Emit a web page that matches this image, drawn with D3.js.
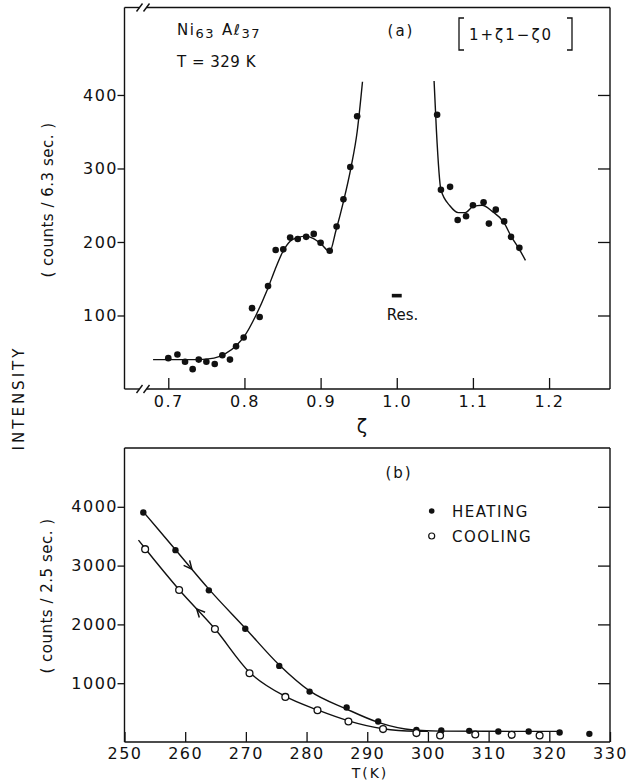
<!DOCTYPE html>
<html>
<head>
<meta charset="utf-8">
<script src="https://cdn.jsdelivr.net/npm/d3@7"></script>
<style>
  body { margin: 0; background: #fff; }
  svg { display: block; font-family: 'DejaVu Sans', sans-serif; }
  text { fill: #111; }
</style>
</head>
<body>
<script>
// (a) zeta scan, Ni63 Al37 at 329 K -- points either side of the Bragg peak
const zetaLow = [0.700, 0.712, 0.722, 0.732, 0.740, 0.750, 0.761, 0.771, 0.781, 0.789, 0.799, 0.810, 0.820,
                 0.831, 0.841, 0.851, 0.860, 0.870, 0.881, 0.891, 0.900, 0.912, 0.921, 0.930, 0.939, 0.948]
const countsLow = [42, 47, 37, 27, 40, 37, 34, 46, 40, 58, 70, 110, 98,
                   140, 189, 190, 206, 204, 207, 211, 199, 188, 221, 258, 302, 371]
const zetaHigh = [1.053, 1.058, 1.070, 1.080, 1.091, 1.100, 1.114, 1.121, 1.130, 1.141, 1.150, 1.161]
const countsHigh = [373, 271, 275, 230, 235, 250, 254, 225, 244, 228, 207, 192]

// hand drawn guide curves of panel (a)
const fitLowZeta = [0.680, 0.700, 0.720, 0.740, 0.760, 0.775, 0.790, 0.800, 0.815, 0.830, 0.840, 0.850,
                    0.860, 0.870, 0.880, 0.890, 0.900, 0.912, 0.920, 0.930, 0.940, 0.948, 0.955]
const fitLowCounts = [40, 40, 40, 40, 42, 48, 60, 72, 100, 135, 162, 186,
                      201, 206, 208, 205, 198, 187, 215, 255, 302, 350, 418]
const fitHighZeta = [1.049, 1.052, 1.058, 1.070, 1.081, 1.090, 1.100, 1.112, 1.125, 1.141, 1.150, 1.161, 1.169]
const fitHighCounts = [419, 353, 271, 249, 240, 240, 248, 250, 242, 226, 208, 190, 175]

const zetaTicks = [0.7, 0.8, 0.9, 1.0, 1.1, 1.2]
const countTicksA = [100, 200, 300, 400]
const resWidth = 0.013
const resLevel = 127

// (b) intensity at fixed zeta vs temperature
const tempHeat = [253.1, 258.4, 263.9, 269.9, 275.5, 280.5, 286.6, 291.8, 298.1, 302.2, 306.8, 311.6, 316.6, 321.7, 326.6]
const countsHeat = [3903, 3263, 2579, 1927, 1294, 857, 586, 348, 207, 195, 190, 178, 178, 161, 139]
const tempCool = [253.4, 259.0, 264.9, 270.6, 276.5, 281.8, 286.9, 292.6, 298.1, 302.0, 307.8, 313.8, 318.4]
const countsCool = [3280, 2584, 1922, 1170, 767, 541, 348, 219, 151, 110, 127, 122, 110]

const fitHeatTemp = [252.9, 258.4, 263.9, 269.9, 275.5, 280.5, 286.6, 291.8, 297.6, 302, 322]
const fitHeatCounts = [3940, 3270, 2600, 1935, 1310, 870, 560, 335, 205, 185, 180]
const fitCoolTemp = [252.3, 253.4, 259.0, 264.9, 270.6, 276.5, 281.8, 286.9, 292.6, 298, 300]
const fitCoolCounts = [3433, 3290, 2590, 1925, 1185, 775, 545, 360, 225, 182, 180]

const arrowHeatTemp = 261.1
const arrowCoolTemp = 261.9

const tempTicks = [250, 260, 270, 280, 290, 300, 310, 320, 330]
const countTicksB = [1000, 2000, 3000, 4000]

const ink = '#111'
const tickFont = 16
const tickSpacing = 1.5

function makeSvg(width, height) {
    return d3.select('body')
        .append('svg')
        .attr('width', width)
        .attr('height', height)
}

function styleTickText(g) {
    g.select('.domain').remove()
    g.selectAll('line').attr('stroke', ink).attr('stroke-width', 1.3)
    g.selectAll('text')
        .attr('fill', ink)
        .style('font-family', "'DejaVu Sans', sans-serif")
        .style('font-size', tickFont + 'px')
        .style('letter-spacing', tickSpacing + 'px')
}

function drawFrame(svg, x0, x1, y0, y1, withBreak) {
    var frame = svg.append('g')
        .attr('fill', 'none')
        .attr('stroke', ink)
        .attr('stroke-width', 1.4)
    frame.append('line').attr('x1', x0).attr('x2', x0).attr('y1', y0).attr('y2', y1)
    frame.append('line').attr('x1', x1).attr('x2', x1).attr('y1', y0).attr('y2', y1)
    ;[y0, y1].forEach(function (y) {
        if (!withBreak) {
            frame.append('line').attr('x1', x0).attr('x2', x1).attr('y1', y).attr('y2', y)
            return
        }
        // axis break "//" near the left corner
        frame.append('line').attr('x1', x0).attr('x2', x0 + 15).attr('y1', y).attr('y2', y)
        frame.append('line').attr('x1', x0 + 22).attr('x2', x1).attr('y1', y).attr('y2', y)
        ;[x0 + 15, x0 + 22].forEach(function (sx) {
            frame.append('line')
                .attr('x1', sx - 3).attr('y1', y + 4)
                .attr('x2', sx + 3).attr('y2', y - 4)
        })
    })
}

function makePanelA(svg) {
    var x = d3.scaleLinear().domain([0.6425, 1.28]).range([124.5, 610])
    var y = d3.scaleLinear().domain([0, 519]).range([389, 7.5])

    drawFrame(svg, x.range()[0], x.range()[1], y.range()[1], y.range()[0], true)

    svg.append('g')
        .attr('transform', 'translate(' + x.range()[0] + ',0)')
        .call(d3.axisLeft(y).tickValues(countTicksA).tickSize(7).tickPadding(1 - tickSpacing))
        .call(styleTickText)

    svg.append('g')
        .attr('transform', 'translate(' + x.range()[1] + ',0)')
        .call(d3.axisLeft(y).tickValues(countTicksA).tickSize(12).tickFormat(''))
        .call(styleTickText)

    svg.append('g')
        .attr('transform', 'translate(0,' + y.range()[0] + ')')
        .call(d3.axisBottom(x).tickValues(zetaTicks).tickSize(-11).tickPadding(7).tickFormat(d3.format('.1f')))
        .call(styleTickText)

    var line = d3.line()
        .x(function (d) { return x(d[0]) })
        .y(function (d) { return y(d[1]) })
        .curve(d3.curveMonotoneX)

    ;[[fitLowZeta, fitLowCounts], [fitHighZeta, fitHighCounts]].forEach(function (fit) {
        svg.append('path')
            .datum(d3.zip(fit[0], fit[1]))
            .attr('d', line)
            .attr('fill', 'none')
            .attr('stroke', ink)
            .attr('stroke-width', 1.4)
    })

    svg.append('g')
        .selectAll('circle')
        .data(d3.zip(zetaLow.concat(zetaHigh), countsLow.concat(countsHigh)))
        .enter()
        .append('circle')
        .attr('cx', function (d) { return x(d[0]) })
        .attr('cy', function (d) { return y(d[1]) })
        .attr('r', 3.3)
        .attr('fill', ink)

    // instrumental resolution bar
    svg.append('rect')
        .attr('x', x(1 - resWidth / 2))
        .attr('width', x(1 + resWidth / 2) - x(1 - resWidth / 2))
        .attr('y', y(resLevel) - 1.8)
        .attr('height', 3.6)
        .attr('fill', ink)
    svg.append('text')
        .attr('x', x(1 - resWidth / 2) - 5)
        .attr('y', 320)
        .style('font-size', '15px')
        .text('Res.')

    var sample = svg.append('text')
        .attr('x', 177)
        .attr('y', 35)
        .style('font-size', '15px')
        .style('letter-spacing', '1.5px')
    sample.append('tspan').text('Ni')
    sample.append('tspan').attr('dy', 3).style('font-size', '13px').text('63')
    sample.append('tspan').attr('dy', -3).attr('dx', 7).text('Aℓ')
    sample.append('tspan').attr('dy', 3).style('font-size', '13px').text('37')

    svg.append('text')
        .attr('x', 177)
        .attr('y', 66.5)
        .style('font-size', '15px')
        .style('letter-spacing', '0.5px')
        .text('T = 329 K')

    svg.append('text')
        .attr('x', 401)
        .attr('y', 36)
        .attr('text-anchor', 'middle')
        .style('font-size', '15px')
        .style('letter-spacing', '2px')
        .text('(a)')

    // scan direction [1+ζ 1-ζ 0]
    var brackets = svg.append('g').attr('fill', 'none').attr('stroke', ink).attr('stroke-width', 1.3)
    brackets.append('path').attr('d', 'M464,18H459V50H464')
    brackets.append('path').attr('d', 'M567,18H572V50H567')
    svg.append('text')
        .attr('x', 469)
        .attr('y', 39.5)
        .style('font-size', '15px')
        .style('letter-spacing', '2px')
        .text('1+ζ1−ζ0')

    svg.append('text')
        .attr('x', 362)
        .attr('y', 433)
        .attr('text-anchor', 'middle')
        .style('font-size', '19px')
        .text('ζ')

    svg.append('text')
        .attr('transform', 'translate(53,200) rotate(-90)')
        .attr('text-anchor', 'middle')
        .style('font-size', '15px')
        .style('letter-spacing', '0.5px')
        .text('( counts / 6.3 sec. )')
}

function makePanelB(svg) {
    var x = d3.scaleLinear().domain([250, 330]).range([124.5, 610])
    var y = d3.scaleLinear().domain([0, 5000]).range([742, 448])

    drawFrame(svg, x.range()[0], x.range()[1], y.range()[1], y.range()[0], false)

    svg.append('g')
        .attr('transform', 'translate(' + x.range()[0] + ',0)')
        .call(d3.axisLeft(y).tickValues(countTicksB).tickSize(7).tickPadding(1 - tickSpacing).tickFormat(d3.format('d')))
        .call(styleTickText)

    svg.append('g')
        .attr('transform', 'translate(' + x.range()[1] + ',0)')
        .call(d3.axisLeft(y).tickValues(countTicksB).tickSize(12).tickFormat(''))
        .call(styleTickText)

    svg.append('g')
        .attr('transform', 'translate(0,' + y.range()[0] + ')')
        .call(d3.axisBottom(x).tickValues(tempTicks).tickSize(-10).tickPadding(6).tickFormat(d3.format('d')))
        .call(styleTickText)

    var line = d3.line()
        .x(function (d) { return x(d[0]) })
        .y(function (d) { return y(d[1]) })
        .curve(d3.curveMonotoneX)

    ;[[fitHeatTemp, fitHeatCounts], [fitCoolTemp, fitCoolCounts]].forEach(function (fit) {
        svg.append('path')
            .datum(d3.zip(fit[0], fit[1]))
            .attr('d', line)
            .attr('fill', 'none')
            .attr('stroke', ink)
            .attr('stroke-width', 1.4)
    })

    // chevrons showing the direction of the temperature sweep
    function drawArrow(temps, counts, t, sign) {
        var i = d3.bisectRight(temps, t) - 1
        var p0 = [x(temps[i]), y(counts[i])]
        var p1 = [x(temps[i + 1]), y(counts[i + 1])]
        var f = (t - temps[i]) / (temps[i + 1] - temps[i])
        var tip = [p0[0] + f * (p1[0] - p0[0]), p0[1] + f * (p1[1] - p0[1])]
        var ang = Math.atan2(p1[1] - p0[1], p1[0] - p0[0]) + (sign < 0 ? Math.PI : 0)
        var len = 9, spread = 0.45
        var a = [tip[0] - len * Math.cos(ang - spread), tip[1] - len * Math.sin(ang - spread)]
        var b = [tip[0] - len * Math.cos(ang + spread), tip[1] - len * Math.sin(ang + spread)]
        svg.append('path')
            .attr('d', 'M' + a + 'L' + tip + 'L' + b)
            .attr('fill', 'none')
            .attr('stroke', ink)
            .attr('stroke-width', 1.5)
    }
    drawArrow(fitHeatTemp, fitHeatCounts, arrowHeatTemp, 1)
    drawArrow(fitCoolTemp, fitCoolCounts, arrowCoolTemp, -1)

    svg.append('g')
        .selectAll('circle')
        .data(d3.zip(tempHeat, countsHeat))
        .enter()
        .append('circle')
        .attr('cx', function (d) { return x(d[0]) })
        .attr('cy', function (d) { return y(d[1]) })
        .attr('r', 3.2)
        .attr('fill', ink)

    svg.append('g')
        .selectAll('circle')
        .data(d3.zip(tempCool, countsCool))
        .enter()
        .append('circle')
        .attr('cx', function (d) { return x(d[0]) })
        .attr('cy', function (d) { return y(d[1]) })
        .attr('r', 3.4)
        .attr('fill', '#fff')
        .attr('stroke', ink)
        .attr('stroke-width', 1.3)

    svg.append('text')
        .attr('x', 399)
        .attr('y', 478)
        .attr('text-anchor', 'middle')
        .style('font-size', '15px')
        .style('letter-spacing', '2px')
        .text('(b)')

    var legend = svg.append('g')
    legend.append('circle').attr('cx', 431.7).attr('cy', 511).attr('r', 2.8).attr('fill', ink)
    legend.append('circle').attr('cx', 431.7).attr('cy', 536).attr('r', 3)
        .attr('fill', '#fff').attr('stroke', ink).attr('stroke-width', 1.2)
    legend.append('text').attr('x', 452).attr('y', 516.5)
        .style('font-size', '15px').style('letter-spacing', '1.5px').text('HEATING')
    legend.append('text').attr('x', 452).attr('y', 541.5)
        .style('font-size', '15px').style('letter-spacing', '1.5px').text('COOLING')

    svg.append('text')
        .attr('x', 370)
        .attr('y', 778)
        .attr('text-anchor', 'middle')
        .style('font-size', '14px')
        .style('letter-spacing', '2px')
        .text('T(K)')

    svg.append('text')
        .attr('transform', 'translate(52,596) rotate(-90)')
        .attr('text-anchor', 'middle')
        .style('font-size', '15px')
        .style('letter-spacing', '0.5px')
        .text('( counts / 2.5 sec. )')
}

var svg = makeSvg(635, 784)
makePanelA(svg)
makePanelB(svg)

svg.append('text')
    .attr('transform', 'translate(24,398) rotate(-90)')
    .attr('text-anchor', 'middle')
    .style('font-size', '15px')
    .style('letter-spacing', '3px')
    .text('INTENSITY')
</script>
</body>
</html>
